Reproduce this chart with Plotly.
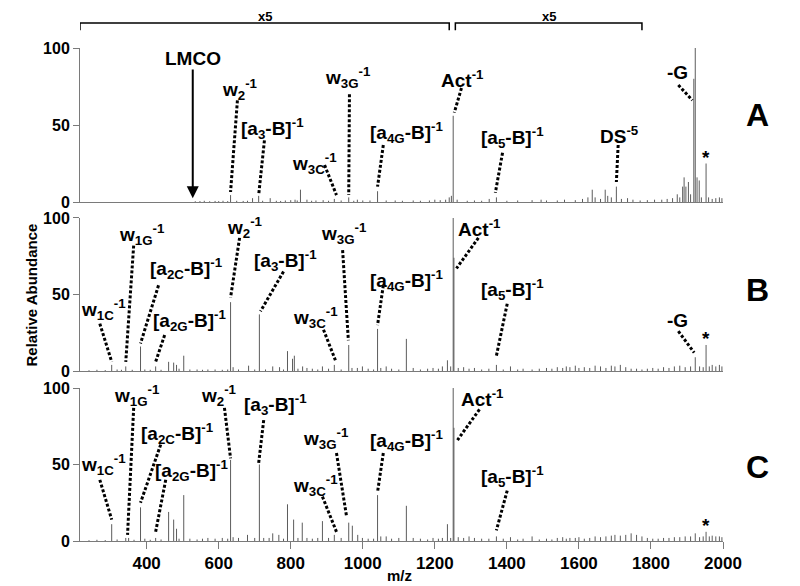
import plotly.graph_objects as go

# ---------------- data (m/z, relative abundance) ----------------
MZ_RANGE = [215, 2000]
X_TICKS = [400, 600, 800, 1000, 1200, 1400, 1600, 1800, 2000]
Y_TICKS = [0, 50, 100]

A_mz = [535, 548, 560, 575, 590, 600, 612, 625, 633, 650,
        668, 680, 694, 711, 722, 743, 760, 772, 785, 800,
        812, 818, 827, 845, 858, 870, 890, 905, 921, 940,
        961, 975, 985, 1000, 1020, 1041, 1065, 1090, 1110, 1140,
        1160, 1185, 1200, 1215, 1230, 1240, 1246, 1251, 1262, 1290,
        1310, 1330, 1351, 1371, 1400, 1430, 1470, 1495, 1510, 1540,
        1560, 1590, 1610, 1625, 1637, 1645, 1660, 1673, 1680, 1690,
        1704, 1718, 1735, 1750, 1770, 1790, 1810, 1830, 1845, 1860,
        1873, 1880, 1888, 1892, 1897, 1904, 1910, 1919, 1923, 1928,
        1934, 1940, 1953, 1960, 1970, 1980, 1990, 1997]
A_int = [0.5, 0.6, 0.8, 0.5, 0.7, 0.6, 0.8, 0.6, 4.5, 0.8,
         0.7, 0.8, 2.5, 4.0, 0.8, 2.5, 0.8, 0.7, 1.0, 1.2,
         1.5, 1.0, 8.0, 1.5, 0.8, 1.0, 1.2, 0.8, 2.0, 1.0,
         3.0, 0.8, 1.5, 1.0, 1.0, 7.0, 1.0, 1.0, 0.8, 1.0,
         0.8, 1.0, 1.5, 1.2, 1.5, 3.0, 4.0, 56.0, 1.5, 0.8,
         1.0, 0.8, 2.0, 3.0, 0.8, 1.0, 1.2, 1.5, 1.0, 1.0,
         1.5, 1.2, 2.0, 3.0, 8.0, 3.0, 2.0, 8.0, 4.0, 3.0,
         10.0, 2.0, 2.5, 1.5, 1.0, 1.2, 1.5, 1.5, 2.0, 2.5,
         5.0, 3.0, 10.0, 16.0, 10.0, 13.0, 5.0, 80.0, 100.0, 16.0,
         14.0, 3.0, 25.0, 3.0, 2.0, 2.5, 3.0, 2.5]

B_mz = [240, 262, 285, 303, 318, 330, 342, 360, 383, 395,
        410, 425, 440, 461, 475, 483, 490, 503, 520, 540,
        555, 570, 590, 610, 625, 633, 640, 655, 683, 700,
        713, 730, 750, 769, 780, 791, 805, 810, 820, 833,
        845, 860, 875, 888, 905, 921, 940, 961, 970, 985,
        999, 1015, 1030, 1041, 1050, 1065, 1080, 1100, 1121, 1140,
        1160, 1180, 1195, 1210, 1221, 1235, 1244, 1251, 1253, 1265,
        1280, 1295, 1310, 1330, 1350, 1371, 1390, 1410, 1430, 1445,
        1470, 1490, 1510, 1525, 1540, 1555, 1565, 1575, 1590, 1600,
        1615, 1630, 1645, 1660, 1675, 1690, 1700, 1715, 1730, 1745,
        1760, 1775, 1790, 1805, 1820, 1835, 1850, 1865, 1880, 1895,
        1910, 1923, 1935, 1945, 1953, 1962, 1970, 1980, 1990, 1997]
B_int = [0.5, 0.8, 0.6, 4.0, 1.0, 0.8, 3.0, 0.8, 16.0, 1.0,
         0.8, 3.0, 0.8, 6.0, 5.5, 4.0, 1.5, 10.0, 1.0, 1.0,
         0.8, 1.0, 1.0, 0.8, 1.0, 45.0, 2.5, 1.0, 3.5, 1.0,
         37.0, 1.0, 3.0, 2.5, 1.0, 13.0, 8.0, 10.0, 1.5, 3.0,
         2.0, 1.5, 1.0, 3.0, 1.5, 4.0, 1.0, 17.0, 2.0, 2.0,
         3.0, 1.5, 1.0, 27.5, 2.0, 3.0, 1.5, 1.0, 21.0, 2.0,
         1.0, 1.5, 2.0, 1.5, 3.0, 7.0, 3.0, 100.0, 74.0, 2.0,
         2.5, 1.5, 2.0, 1.0, 1.5, 4.0, 1.0, 3.0, 1.0, 1.5,
         1.0, 1.5, 2.0, 1.5, 2.5, 2.0, 3.0, 2.5, 3.5, 2.0,
         2.5, 2.0, 3.5, 3.0, 2.0, 3.5, 3.0, 4.0, 2.5, 1.5,
         1.5, 1.0, 1.5, 2.0, 1.5, 2.5, 2.0, 3.0, 3.5, 2.5,
         3.0, 9.0, 3.0, 2.5, 17.0, 3.0, 4.0, 3.0, 4.0, 3.0]

C_mz = [240, 262, 285, 303, 318, 342, 350, 365, 383, 395,
        410, 425, 440, 461, 475, 483, 490, 503, 520, 540,
        555, 570, 590, 610, 625, 633, 640, 655, 680, 700,
        713, 725, 740, 750, 767, 780, 791, 808, 820, 832,
        845, 860, 875, 888, 905, 921, 940, 961, 971, 986,
        999, 1015, 1030, 1041, 1050, 1065, 1080, 1100, 1121, 1140,
        1160, 1180, 1195, 1210, 1221, 1235, 1244, 1251, 1253, 1265,
        1280, 1295, 1310, 1330, 1350, 1371, 1390, 1410, 1430, 1445,
        1470, 1490, 1510, 1525, 1540, 1555, 1565, 1575, 1590, 1600,
        1615, 1630, 1645, 1660, 1675, 1690, 1700, 1715, 1730, 1745,
        1760, 1775, 1790, 1805, 1820, 1835, 1850, 1865, 1880, 1895,
        1910, 1923, 1935, 1945, 1953, 1962, 1970, 1980, 1990, 1997]
C_int = [0.5, 0.8, 0.6, 11.0, 1.0, 2.0, 2.0, 0.8, 22.0, 1.5,
         0.8, 2.0, 1.0, 19.0, 14.0, 8.0, 1.5, 30.0, 1.5, 1.0,
         1.5, 2.0, 1.5, 2.0, 1.5, 53.0, 2.5, 2.0, 4.0, 2.0,
         50.0, 2.0, 2.0, 5.0, 4.0, 1.5, 24.0, 14.0, 2.0, 12.0,
         2.0, 1.5, 2.0, 13.0, 2.0, 4.0, 2.0, 12.0, 10.0, 4.0,
         2.0, 1.5, 1.5, 30.0, 3.0, 3.0, 1.5, 2.0, 23.0, 2.0,
         1.5, 1.0, 2.0, 1.5, 2.0, 11.0, 2.0, 100.0, 74.0, 2.5,
         2.0, 3.0, 2.0, 1.5, 1.5, 3.0, 1.5, 2.5, 1.0, 1.5,
         3.0, 1.0, 1.5, 1.0, 2.0, 2.5, 1.5, 2.0, 2.0, 2.5,
         1.5, 2.0, 3.0, 2.5, 3.0, 3.5, 4.0, 3.5, 4.0, 5.0,
         4.0, 3.0, 2.0, 1.5, 1.5, 2.0, 2.0, 2.5, 2.5, 3.0,
         3.0, 5.0, 2.5, 3.0, 6.0, 3.0, 3.5, 3.0, 3.0, 2.5]

PANEL_NAMES = ["A", "B", "C"]

# magnification brackets (m/z start, m/z end, label)
ZOOM_START = [215, 1257]
ZOOM_END = [1240, 1775]
ZOOM_LABEL = ["x5", "x5"]

# peak labels: panel, text, label position, dotted leader (x0,y0)->(x1,y1)
W2 = "w<sub>2</sub><sup>-1</sup>"
A3 = "[a<sub>3</sub>-B]<sup>-1</sup>"
W3C = "w<sub>3C</sub><sup>-1</sup>"
W3G = "w<sub>3G</sub><sup>-1</sup>"
A4G = "[a<sub>4G</sub>-B]<sup>-1</sup>"
ACT = "Act<sup>-1</sup>"
A5 = "[a<sub>5</sub>-B]<sup>-1</sup>"
W1C = "w<sub>1C</sub><sup>-1</sup>"
W1G = "w<sub>1G</sub><sup>-1</sup>"
A2C = "[a<sub>2C</sub>-B]<sup>-1</sup>"
A2G = "[a<sub>2G</sub>-B]<sup>-1</sup>"

LABELS = [
    (0, W2, 658, 73, 652, 66, 633, 6.5),
    (0, A3, 750, 48, 727, 40, 711, 4.5),
    (0, W3C, 866, 25, 894, 24, 927, 4.5),
    (0, W3G, 958, 81, 963, 70, 961, 4.5),
    (0, A4G, 1121, 45, 1057, 37, 1041, 10),
    (0, ACT, 1277, 80, 1274, 74, 1254, 58),
    (0, A5, 1415, 42, 1388, 32, 1368, 6),
    (0, "DS<sup>-5</sup>", 1712, 43.5, 1709, 37, 1704, 13),
    (0, "-G", 1873, 84, 1876, 76, 1915, 66),
    (0, "*", 1953, 29, None, None, None, None),
    (1, W1C, 281, 40, 270, 31, 303, 6),
    (1, W1G, 386, 89, 364, 82, 342, 6),
    (1, A2C, 511, 67, 433, 56, 383, 18),
    (1, A2G, 519, 33, 450, 23.5, 425, 6),
    (1, W2, 672, 93.5, 658, 87, 633, 48),
    (1, A3, 786, 72.5, 780, 65, 716, 39),
    (1, W3C, 869, 35, 891, 27, 924, 7),
    (1, W3G, 949, 90, 944, 79, 960, 20),
    (1, A4G, 1121, 59, 1057, 56, 1041, 30),
    (1, ACT, 1324, 93.5, 1321, 87, 1260, 67),
    (1, A5, 1415, 53, 1401, 44, 1371, 10),
    (1, "-G", 1873, 33, 1876, 26, 1920, 12),
    (1, "*", 1953, 21.5, None, None, None, None),
    (2, W1C, 281, 50, 270, 40, 303, 14),
    (2, W1G, 372, 95, 364, 87, 347, 4),
    (2, A2C, 486, 70.5, 439, 63, 383, 25),
    (2, A2G, 525, 46, 453, 40, 425, 6),
    (2, W2, 602, 95, 616, 87, 633, 54),
    (2, A3, 758, 89, 725, 79, 711, 51),
    (2, W3C, 869, 36.5, 888, 29, 927, 6),
    (2, W3G, 899, 67, 927, 57.5, 955, 16),
    (2, A4G, 1121, 66, 1057, 57.5, 1041, 32),
    (2, ACT, 1332, 93.5, 1324, 86, 1263, 66),
    (2, A5, 1415, 42, 1401, 33, 1371, 7),
    (2, "*", 1953, 10, None, None, None, None),
]

LMCO_MZ = 528

# ---------------- figure ----------------
FONT = "Arial, 'Liberation Sans', sans-serif"
DOMAINS = [[0.6876, 1.0], [0.3448, 0.6552], [0.0, 0.3103]]
LABEL_Y = [0.864, 0.509, 0.150]

fig = go.Figure()
for i, (mz, inten) in enumerate([(A_mz, A_int), (B_mz, B_int), (C_mz, C_int)]):
    xs, ys = [], []
    for m, v in zip(mz, inten):
        xs += [m, m, None]
        ys += [0, v, None]
    sfx = "" if i == 0 else str(i + 1)
    fig.add_trace(go.Scatter(x=xs, y=ys, mode="lines",
                             line=dict(color="#5c5c5c", width=1),
                             xaxis="x" + sfx, yaxis="y" + sfx,
                             hoverinfo="skip", showlegend=False))

# the page body adds an 8px offset, margins compensate for it
layout = dict(width=800, height=586,
              margin=dict(l=72, r=85, t=40, b=53),
              paper_bgcolor="white", plot_bgcolor="white",
              font=dict(family=FONT, color="black"),
              showlegend=False)
for i in range(3):
    sfx = "" if i == 0 else str(i + 1)
    bottom = (i == 2)
    layout["xaxis" + sfx] = dict(
        domain=[0, 1], range=MZ_RANGE, anchor="y" + sfx,
        showline=True, linecolor="#7a7a7a", linewidth=1,
        showgrid=False, zeroline=False,
        tickvals=X_TICKS if bottom else [],
        ticks="outside" if bottom else "", ticklen=7, tickcolor="#7a7a7a",
        showticklabels=bottom,
        tickfont=dict(size=17, family=FONT, weight="bold"),
        matches=None if i == 0 else "x")
    layout["yaxis" + sfx] = dict(
        domain=DOMAINS[i], range=[0, 100], anchor="x" + sfx,
        showline=True, linecolor="#7a7a7a", linewidth=1,
        showgrid=False, zeroline=False,
        tickvals=Y_TICKS, ticks="outside", ticklen=6, tickcolor="#7a7a7a",
        tickfont=dict(size=16, family=FONT, weight="bold"))
fig.update_layout(**layout)

annotations = []
shapes = []
lab_font = dict(size=19, family=FONT, weight="bold", color="black")
for (p, txt, tx, ty, x0, y0, x1, y1) in LABELS:
    sfx = "" if p == 0 else str(p + 1)
    annotations.append(dict(x=tx, y=ty, xref="x" + sfx, yref="y" + sfx,
                            text=txt, showarrow=False, font=lab_font,
                            xanchor="center", yanchor="middle"))
    if x0 is not None:
        shapes.append(dict(type="line", xref="x" + sfx, yref="y" + sfx,
                           x0=x0, y0=y0, x1=x1, y1=y1,
                           line=dict(color="black", width=3, dash="3px,2px")))

# LMCO arrow
annotations.append(dict(x=LMCO_MZ, y=93.5, xref="x", yref="y", text="LMCO",
                        showarrow=False, font=lab_font, xanchor="center", yanchor="middle"))
annotations.append(dict(x=LMCO_MZ, y=2.5, ax=LMCO_MZ, ay=87, xref="x", yref="y",
                        axref="x", ayref="y", text="", showarrow=True,
                        arrowhead=2, arrowsize=1.2, arrowwidth=2, arrowcolor="black"))

# magnification brackets
for s, e, lab in zip(ZOOM_START, ZOOM_END, ZOOM_LABEL):
    shapes.append(dict(type="path", xref="x", yref="paper",
                       path=f"M {s},1.036 L {s},1.0507 L {e},1.0507 L {e},1.036",
                       line=dict(color="black", width=1.5)))
    annotations.append(dict(x=(s + e) / 2, y=1.063, xref="x", yref="paper",
                            text=lab, showarrow=False,
                            font=dict(size=13, family=FONT, weight="bold"),
                            xanchor="center", yanchor="middle"))

# panel letters
for name, ly in zip(PANEL_NAMES, LABEL_Y):
    annotations.append(dict(x=1.054, y=ly, xref="paper", yref="paper", text=name,
                            showarrow=False, font=dict(size=32, family=FONT, weight="bold"),
                            xanchor="center", yanchor="middle"))

# axis titles
annotations.append(dict(x=-0.0747, y=0.5, xref="paper", yref="paper",
                        text="Relative Abundance", textangle=-90, showarrow=False,
                        font=dict(size=15, family=FONT, weight="bold"),
                        xanchor="center", yanchor="middle"))
annotations.append(dict(x=0.497, y=-0.069, xref="paper", yref="paper",
                        text="m/z", showarrow=False,
                        font=dict(size=15, family=FONT, weight="bold"),
                        xanchor="center", yanchor="middle"))

fig.update_layout(annotations=annotations, shapes=shapes)
fig.write_html("out.html")
